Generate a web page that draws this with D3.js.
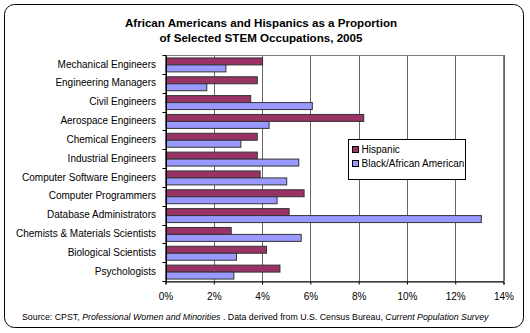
<!DOCTYPE html>
<html>
<head>
<meta charset="utf-8">
<script src="https://cdn.jsdelivr.net/npm/d3@7"></script>
<style>
    body { margin: 0; background: #fff; }
    text { font-family: "Liberation Sans", Arial, sans-serif; }
</style>
</head>
<body>
<div id="chart"></div>
<script>
var occupations = [
    "Mechanical Engineers", "Engineering Managers", "Civil Engineers",
    "Aerospace Engineers", "Chemical Engineers", "Industrial Engineers",
    "Computer Software Engineers", "Computer Programmers", "Database Administrators",
    "Chemists & Materials Scientists", "Biological Scientists", "Psychologists"
];
var hispanic = [4.0, 3.78, 3.51, 8.19, 3.78, 3.78, 3.9, 5.72, 5.1, 2.7, 4.16, 4.72];
var black = [2.48, 1.69, 6.06, 4.27, 3.1, 5.5, 5.0, 4.6, 13.06, 5.6, 2.92, 2.81];
var seriesNames = ["Hispanic", "Black/African American"];
var seriesColors = ["#993366", "#9999ff"];
var xTicks = [0, 2, 4, 6, 8, 10, 12, 14];

var width = 530, height = 333;
var plotLeft = 165.5, plotRight = 503.5, plotTop = 55, plotBottom = 281;

var svg = d3.select("#chart").append("svg")
    .attr("width", width)
    .attr("height", height);

// rounded frame around the whole chart
svg.append("rect")
    .attr("x", 4.5).attr("y", 4.5)
    .attr("width", 519).attr("height", 323)
    .attr("rx", 10).attr("ry", 10)
    .attr("fill", "#fff")
    .attr("stroke", "#000")
    .attr("stroke-width", 1);

svg.append("text")
    .attr("x", 261).attr("y", 27)
    .attr("text-anchor", "middle")
    .attr("font-size", 11.6).attr("font-weight", "bold")
    .text("African Americans and Hispanics as a Proportion");
svg.append("text")
    .attr("x", 261).attr("y", 42)
    .attr("text-anchor", "middle")
    .attr("font-size", 11.6).attr("font-weight", "bold")
    .text("of Selected STEM Occupations, 2005");

var x = d3.scaleLinear().domain([0, 14]).range([plotLeft, plotRight]);
var y = d3.scaleBand().domain(occupations).range([plotTop, plotBottom]).padding(0);
var inner = d3.scaleBand().domain(seriesNames).range([0, y.bandwidth()])
    .paddingInner(0).paddingOuter(0.35);

// plot area border and vertical gridlines
svg.append("rect")
    .attr("x", plotLeft).attr("y", plotTop + 0.5)
    .attr("width", plotRight - plotLeft).attr("height", plotBottom - plotTop)
    .attr("fill", "none")
    .attr("stroke", "#808080");

svg.selectAll(".grid")
    .data(xTicks.slice(1))
    .enter().append("line")
    .attr("class", "grid")
    .attr("x1", function (d) { return Math.round(x(d)) + 0.5; })
    .attr("x2", function (d) { return Math.round(x(d)) + 0.5; })
    .attr("y1", plotTop).attr("y2", plotBottom)
    .attr("stroke", "#666");

var rows = occupations.map(function (name, i) {
    return { name: name, values: [hispanic[i], black[i]] };
});

var groups = svg.selectAll(".row")
    .data(rows)
    .enter().append("g")
    .attr("class", "row")
    .attr("transform", function (d) { return "translate(0," + y(d.name) + ")"; });

groups.selectAll("rect")
    .data(function (d) {
        return d.values.map(function (v, j) { return { series: seriesNames[j], value: v, j: j }; });
    })
    .enter().append("rect")
    .attr("x", x(0) + 0.5)
    .attr("y", function (d) { return inner(d.series) + 0.5; })
    .attr("width", function (d) { return x(d.value) - x(0); })
    .attr("height", inner.bandwidth())
    .attr("fill", function (d) { return seriesColors[d.j]; })
    .attr("stroke", "#333")
    .attr("stroke-width", 1);

// category axis on the left
var yAxis = svg.append("g")
    .attr("transform", "translate(" + (plotLeft + 0.5) + ",0)")
    .call(d3.axisLeft(y).tickSize(0).tickPadding(10));
yAxis.select(".domain").attr("stroke", "#000");
yAxis.selectAll("text").attr("font-size", 10).attr("fill", "#000")
    .style("font-family", "'Liberation Sans', Arial, sans-serif");

svg.selectAll(".ytick")
    .data(occupations.concat(["end"]))
    .enter().append("line")
    .attr("class", "ytick")
    .attr("x1", plotLeft - 3).attr("x2", plotLeft + 0.5)
    .attr("y1", function (d, i) { return Math.round(plotTop + i * y.step()) + 0.5; })
    .attr("y2", function (d, i) { return Math.round(plotTop + i * y.step()) + 0.5; })
    .attr("stroke", "#000");

// value axis along the bottom
var xAxis = svg.append("g")
    .attr("transform", "translate(0," + (plotBottom + 0.5) + ")")
    .call(d3.axisBottom(x).tickValues(xTicks).tickSize(3).tickPadding(8)
        .tickFormat(function (d) { return d + "%"; }));
xAxis.select(".domain").attr("stroke", "#000");
xAxis.selectAll("line").attr("stroke", "#000");
xAxis.selectAll("text").attr("font-size", 10).attr("fill", "#000")
    .style("font-family", "'Liberation Sans', Arial, sans-serif");

// legend
var legend = svg.append("g").attr("transform", "translate(348.5,139.5)");
legend.append("rect")
    .attr("width", 117).attr("height", 40)
    .attr("fill", "#fff").attr("stroke", "#000");
seriesNames.forEach(function (name, i) {
    var cy = 10 + i * 14;
    legend.append("rect")
        .attr("x", 4).attr("y", cy - 3)
        .attr("width", 6).attr("height", 6)
        .attr("fill", seriesColors[i]).attr("stroke", "#000");
    legend.append("text")
        .attr("x", 13).attr("y", cy + 3.5)
        .attr("font-size", 10)
        .text(name);
});

// source note
var note = svg.append("text")
    .attr("x", 22).attr("y", 320)
    .attr("font-size", 8.8);
note.append("tspan").text("Source: CPST, ");
note.append("tspan").attr("font-style", "italic").text("Professional Women and Minorities");
note.append("tspan").text(" .  Data derived from U.S. Census Bureau, ");
note.append("tspan").attr("font-style", "italic").text("Current Population Survey");
</script>
</body>
</html>
